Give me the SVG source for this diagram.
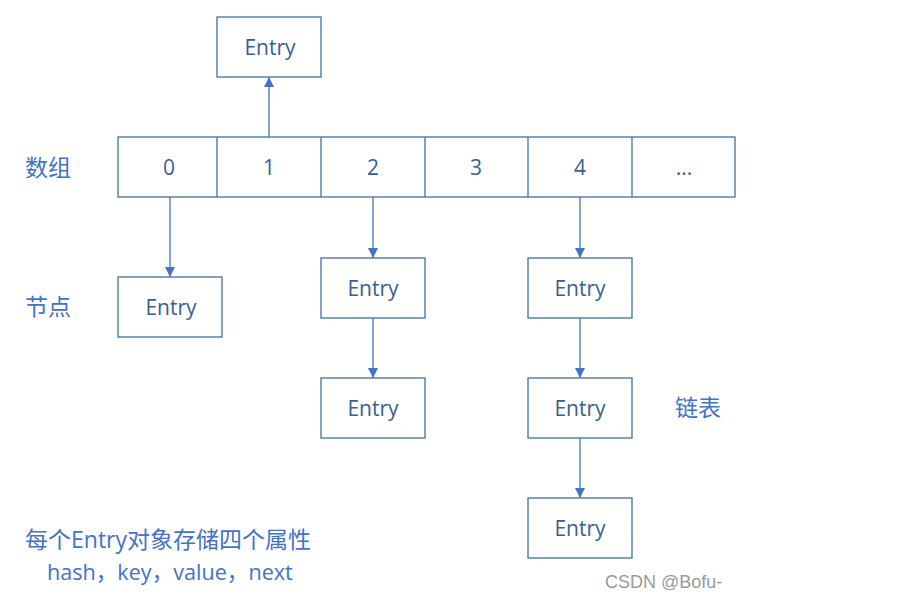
<svg xmlns="http://www.w3.org/2000/svg" width="923" height="594" viewBox="0 0 923 594">
<defs>
<marker id="ah" viewBox="0 0 10 10" refX="10" refY="5" markerWidth="10" markerHeight="10" markerUnits="userSpaceOnUse" orient="auto">
<path d="M0,0 L10,5 L0,10 z" fill="#4472C4"/>
</marker>
<style>
.box{fill:#fff;stroke:#41719C;stroke-width:1.3}
.bt{font-family:"Open Sans","Noto Sans",sans-serif;font-size:21px;fill:#3A5F8F;text-anchor:middle;dominant-baseline:central}
.lbl{font-family:"Open Sans","Noto Sans CJK SC",sans-serif;font-size:23px;fill:#4472C4}
.con{stroke:#4472C4;stroke-width:1.3;fill:none;marker-end:url(#ah)}
</style>
</defs>
<rect width="923" height="594" fill="#fff"/>
<g id="array">
<rect class="box" x="118" y="137" width="617" height="60"/>
<line x1="217" y1="137" x2="217" y2="197" stroke="#41719C" stroke-width="1.3"/>
<line x1="321" y1="137" x2="321" y2="197" stroke="#41719C" stroke-width="1.3"/>
<line x1="425" y1="137" x2="425" y2="197" stroke="#41719C" stroke-width="1.3"/>
<line x1="528" y1="137" x2="528" y2="197" stroke="#41719C" stroke-width="1.3"/>
<line x1="632" y1="137" x2="632" y2="197" stroke="#41719C" stroke-width="1.3"/>
<text class="bt" x="169" y="167">0</text>
<text class="bt" x="269" y="167">1</text>
<text class="bt" x="373" y="167">2</text>
<text class="bt" x="476" y="167">3</text>
<text class="bt" x="580" y="167">4</text>
<text class="bt" x="684" y="167">...</text>
</g>
<g id="entry-top"><rect class="box" x="217" y="17" width="104" height="60"/><text class="bt" x="270" y="47">Entry</text></g>
<g id="entry-0"><rect class="box" x="118" y="277" width="104" height="60"/><text class="bt" x="171" y="307">Entry</text></g>
<g id="entry-2a"><rect class="box" x="321" y="258" width="104" height="60"/><text class="bt" x="373" y="288">Entry</text></g>
<g id="entry-2b"><rect class="box" x="321" y="378" width="104" height="60"/><text class="bt" x="373" y="408">Entry</text></g>
<g id="entry-4a"><rect class="box" x="528" y="258" width="104" height="60"/><text class="bt" x="580" y="288">Entry</text></g>
<g id="entry-4b"><rect class="box" x="528" y="378" width="104" height="60"/><text class="bt" x="580" y="408">Entry</text></g>
<g id="entry-4c"><rect class="box" x="528" y="498" width="104" height="60"/><text class="bt" x="580" y="528">Entry</text></g>
<g id="connectors">
<line class="con" x1="269" y1="137" x2="269" y2="77"/>
<line class="con" x1="170" y1="197" x2="170" y2="277"/>
<line class="con" x1="373" y1="197" x2="373" y2="258"/>
<line class="con" x1="373" y1="318" x2="373" y2="378"/>
<line class="con" x1="580" y1="197" x2="580" y2="258"/>
<line class="con" x1="580" y1="318" x2="580" y2="378"/>
<line class="con" x1="580" y1="438" x2="580" y2="498"/>
</g>
<g id="labels">
<text class="lbl" x="25" y="176">数组</text>
<text class="lbl" x="25" y="315">节点</text>
<text class="lbl" x="675" y="416">链表</text>
<text class="lbl" x="25" y="548">每个Entry对象存储四个属性</text>
<text class="lbl" x="47" y="580" style="font-size:21.6px">hash，key，value，next</text>
<text x="605" y="588" font-family="'Liberation Sans',Arial,sans-serif" font-size="18" fill="#9a9a9a">CSDN @Bofu-</text>
</g>
</svg>
